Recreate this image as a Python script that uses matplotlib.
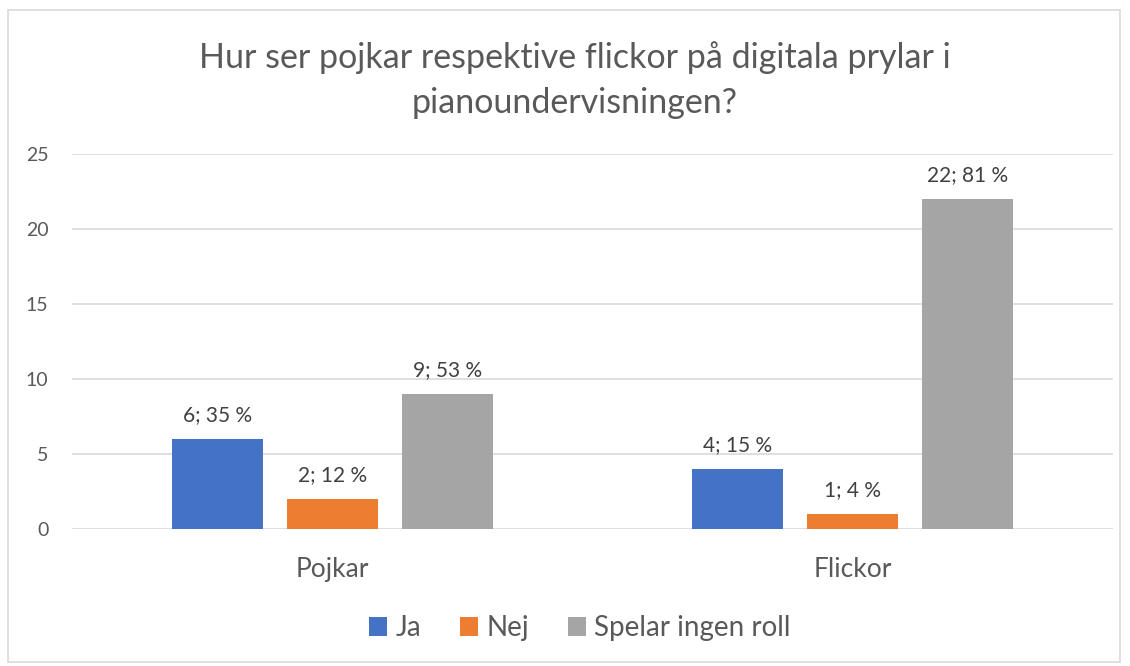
import numpy as np
import matplotlib.pyplot as plt
from matplotlib.patches import Rectangle

plt.rcParams['font.family'] = ['Lato', 'DejaVu Sans']

categories = ['Pojkar', 'Flickor']
series = ['Ja', 'Nej', 'Spelar ingen roll']
ja = [6, 4]
nej = [2, 1]
spelar = [9, 22]
ja_pct = [35, 15]
nej_pct = [12, 4]
spelar_pct = [53, 81]
yticks = [0, 5, 10, 15, 20, 25]

colors = ['#4472C4', '#ED7D31', '#A5A5A5']
txt = '#595959'

fig = plt.figure(figsize=(11.3, 6.66), dpi=100)
# chart border
fig.patches.append(Rectangle((8/1130, 4/666), 1112/1130, 652/666, transform=fig.transFigure,
                             fill=False, edgecolor='#D9D9D9', lw=1.2))

ax = fig.add_axes([72/1130, 1 - 529/666, 1041/1130, 375/666])
x = np.arange(len(categories))
w = 0.175
step = 0.221
vals = [ja, nej, spelar]
pcts = [ja_pct, nej_pct, spelar_pct]
for i, (v, p) in enumerate(zip(vals, pcts)):
    bars = ax.bar(x + (i - 1) * step, v, w, color=colors[i], label=series[i], zorder=3)
    for b, vv, pp in zip(bars, v, p):
        ax.text(b.get_x() + b.get_width() / 2, vv + 0.95, f'{vv}; {pp} %',
                ha='center', va='bottom', fontsize=15, color='#404040')

ax.set_xlim(-0.5, 1.5)
ax.set_ylim(0, 25)
ax.set_yticks(yticks)
ax.yaxis.grid(True, color='#D9D9D9', lw=1.2, zorder=0)
ax.set_xticks(x)
ax.set_xticklabels(categories, fontsize=19, color=txt)
ax.tick_params(axis='x', length=0, pad=20)
ax.tick_params(axis='y', length=0, labelsize=14, labelcolor=txt, pad=17)
for s in ax.spines.values():
    s.set_visible(False)

fig.text(575/1130, 1 - 80/666,
         'Hur ser pojkar respektive flickor på digitala prylar i\npianoundervisningen?',
         ha='center', va='center', fontsize=24.5, color=txt, linespacing=1.5)

fig.legend(loc='center', bbox_to_anchor=(580/1130, 1 - 628/666), ncol=3, frameon=False,
           fontsize=20, labelcolor=txt, handlelength=0.65, handleheight=0.65,
           handletextpad=0.3, columnspacing=1.4)

fig.savefig('out.png', dpi=100)
